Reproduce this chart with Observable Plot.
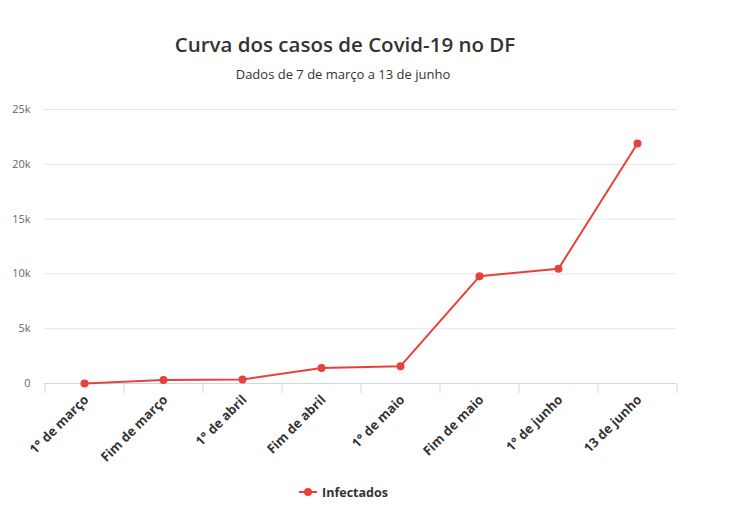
<!DOCTYPE html>
<html>
<head>
<meta charset="utf-8">
<script src="https://cdn.jsdelivr.net/npm/d3@7"></script>
<script src="https://cdn.jsdelivr.net/npm/@observablehq/plot@0.6"></script>
<style>
  body { margin: 0; background: #fff; font-family: "Open Sans", sans-serif; }
  #wrap { width: 734px; }
  .title { width: 690px; text-align: center; font-size: 20.5px; font-weight: 600; color: #333; padding-top: 29px; height: 30px; line-height: 30px; }
  .subtitle { width: 686px; text-align: center; font-size: 13px; color: #333; height: 31px; line-height: 31px; }
  .legend { width: 686px; text-align: center; height: 44px; font-size: 12.5px; font-weight: bold; color: #333; display: flex; justify-content: center; align-items: center; }
  .legend svg { margin-right: 4px; }
</style>
</head>
<body>
<div id="wrap">
  <div class="title">Curva dos casos de Covid-19 no DF</div>
  <div class="subtitle">Dados de 7 de março a 13 de junho</div>
  <div id="chart"></div>
  <div class="legend"><svg width="20" height="10"><line x1="1" y1="5" x2="19" y2="5" stroke="#e8413a" stroke-width="2"/><circle cx="10" cy="5" r="4" fill="#e8413a"/></svg><span>Infectados</span></div>
</div>
<script>
const categories = ["1° de março", "Fim de março", "1° de abril", "Fim de abril", "1° de maio", "Fim de maio", "1° de junho", "13 de junho"];
const infectados = [1, 330, 370, 1420, 1580, 9780, 10480, 21900];
const yTicks = [0, 5000, 10000, 15000, 20000, 25000];
const seriesName = "Infectados";

const data = categories.map((c, i) => ({ cat: c, value: infectados[i] }));
const red = "#e8413a";

const chart = Plot.plot({
  width: 734,
  height: 380,
  marginTop: 19,
  marginBottom: 87,
  marginLeft: 44,
  marginRight: 58,
  style: { fontFamily: "'Open Sans', sans-serif", background: "#fff" },
  x: { type: "point", domain: categories, padding: 0.5 },
  y: { type: "linear", domain: [0, 25000] },
  marks: [
    Plot.ruleY(yTicks, { y: d => d, stroke: "#e6e6e6" }),
    Plot.ruleY([0], { y: d => d, stroke: "#ccd6eb", strokeWidth: 1 }),
    Plot.ruleX(categories, { x: d => d, y1: () => 0, y2: () => 0, insetTop: 0, insetBottom: -10, dx: 39.5, stroke: "#ccd6eb" }),
    Plot.ruleX(categories.slice(0, 1), { x: d => d, y1: () => 0, y2: () => 0, insetTop: 0, insetBottom: -10, dx: -39.5, stroke: "#ccd6eb" }),
    Plot.axisY(yTicks, { tickSize: 0, tickPadding: 14, tickFormat: d => d === 0 ? "0" : d / 1000 + "k", fill: "#666", fontSize: 11, label: null }),
    Plot.axisX({ tickSize: 0, tickPadding: 14, dx: 2, tickRotate: -45, fontWeight: "bold", fill: "#333", fontSize: 13, label: null }),
    Plot.line(data, { x: "cat", y: "value", stroke: red, strokeWidth: 2 }),
    Plot.dot(data, { x: "cat", y: "value", fill: red, r: 4 })
  ]
});
document.getElementById("chart").appendChild(chart);
</script>
</body>
</html>
